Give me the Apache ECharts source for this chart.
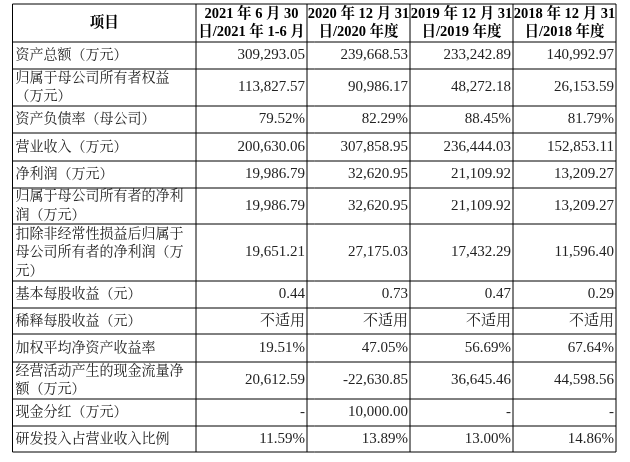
<!DOCTYPE html>
<html><head><meta charset="utf-8">
<script src="https://cdn.jsdelivr.net/npm/echarts@6/dist/echarts.min.js"></script>
<style>html,body{margin:0;padding:0;background:#fff}#c{width:630px;height:462px}</style>
</head><body><div id="c"></div>
<script>
const headers = ['项目', '2021 年 6 月 30\n日/2021 年 1-6 月', '2020 年 12 月 31\n日/2020 年度', '2019 年 12 月 31\n日/2019 年度', '2018 年 12 月 31\n日/2018 年度'];
const rowLabels = ['资产总额（万元）', '归属于母公司所有者权益\n（万元）', '资产负债率（母公司）', '营业收入（万元）', '净利润（万元）', '归属于母公司所有者的净利\n润（万元）', '扣除非经常性损益后归属于\n母公司所有者的净利润（万\n元）', '基本每股收益（元）', '稀释每股收益（元）', '加权平均净资产收益率', '经营活动产生的现金流量净\n额（万元）', '现金分红（万元）', '研发投入占营业收入比例'];
const col2021H1 = ['309,293.05', '113,827.57', '79.52%', '200,630.06', '19,986.79', '19,986.79', '19,651.21', '0.44', '不适用', '19.51%', '20,612.59', '-', '11.59%'];
const col2020 = ['239,668.53', '90,986.17', '82.29%', '307,858.95', '32,620.95', '32,620.95', '27,175.03', '0.73', '不适用', '47.05%', '-22,630.85', '10,000.00', '13.89%'];
const col2019 = ['233,242.89', '48,272.18', '88.45%', '236,444.03', '21,109.92', '21,109.92', '17,432.29', '0.47', '不适用', '56.69%', '36,645.46', '-', '13.00%'];
const col2018 = ['140,992.97', '26,153.59', '81.79%', '152,853.11', '13,209.27', '13,209.27', '11,596.40', '0.29', '不适用', '67.64%', '44,598.56', '-', '14.86%'];

const cols = [col2021H1, col2020, col2019, col2018];
const xs = [12.5, 196, 307, 410, 513, 616];
const ys = [4, 42, 69, 106, 133, 161, 188, 224, 281, 308, 334, 362, 399, 426, 452];
const font = '"Liberation Serif","Noto Serif CJK SC","Noto Sans CJK SC",serif';
const els = [];
ys.forEach(y => els.push({type:'line', shape:{x1:xs[0], y1:y, x2:xs[5], y2:y}, style:{stroke:'#000', lineWidth:1}}));
xs.forEach(x => els.push({type:'line', shape:{x1:x, y1:ys[0], x2:x, y2:ys[ys.length-1]}, style:{stroke:'#000', lineWidth:1}}));
headers.forEach((h, i) => {
  els.push({type:'text', x:(xs[i]+xs[i+1])/2, y:(ys[0]+ys[1])/2, style:{text:h, fill:'#000', font:'bold 14.5px ' + font, align:'center', verticalAlign:'middle', lineHeight:18}});
});
rowLabels.forEach((l, r) => {
  els.push({type:'text', x:xs[0]+3, y:(ys[r+1]+ys[r+2])/2, style:{text:l, fill:'#222', font:'14px ' + font, align:'left', verticalAlign:'middle', lineHeight:18.5}});
  cols.forEach((c, ci) => {
    els.push({type:'text', x:xs[ci+2]-2, y:(ys[r+1]+ys[r+2])/2, style:{text:c[r], fill:'#222', font:'15px ' + font, align:'right', verticalAlign:'middle'}});
  });
});
const chart = echarts.init(document.getElementById('c'));
chart.setOption({graphic:{elements:els}});
</script></body></html>
